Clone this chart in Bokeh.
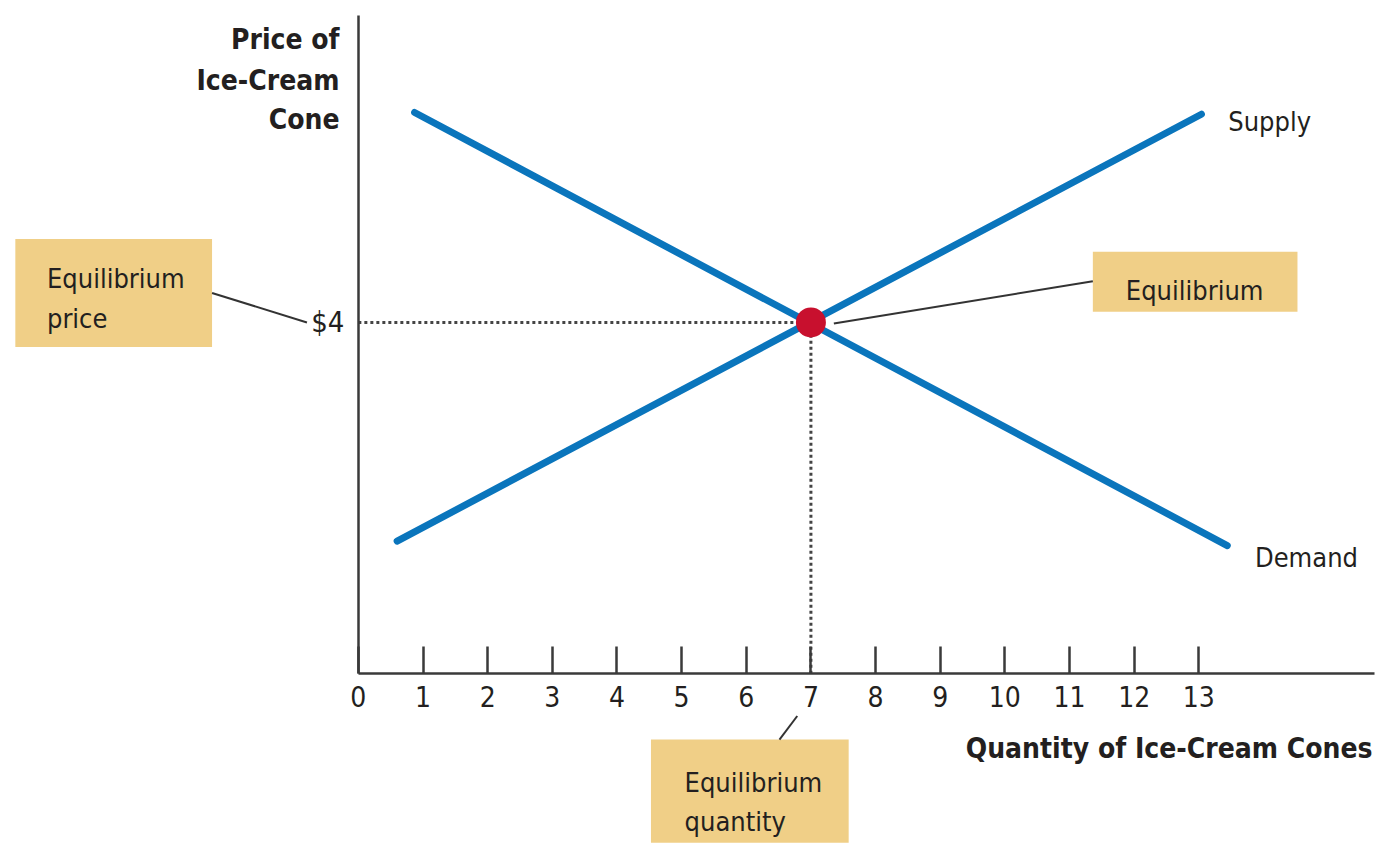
from bokeh.plotting import figure
from bokeh.models import Range1d, LinearAxis, FixedTicker, Label, PolyAnnotation, Arrow
from bokeh.embed import file_html
from bokeh.resources import INLINE

# ---------------- data ----------------
supply_q = [0.60, 13.04]
supply_p = [1.51, 6.37]
demand_q = [0.87, 13.44]
demand_p = [6.39, 1.46]
eq_q = [7]
eq_p = [4]
q_ticks = list(range(0, 14))
p_ticks = [4]
p_tick_labels = {4: "$4"}

# ---------------- layout constants (reference pixels) ----------------
W, H = 1381, 849
REF_W, REF_H = 1397, 865
X0_PX, Y0_PX = 362, 686          # reference px of the origin
PX_PER_Q, PX_PER_P = 65.4, 89.5
TOP_PX, RIGHT_PX = 15, 1390
FONT = "DejaVu Sans Condensed, Liberation Sans Narrow, Roboto"
TXT = "#231f20"
AXIS = "#3a3a3a"
BLUE = "#0a75bc"
RED = "#c8102e"
BOX = "#f0cf87"
REG = "27px"
BOLD = "28px"

def dx(px):
    return (px - X0_PX) / PX_PER_Q

def dy(py):
    return (Y0_PX - py) / PX_PER_P

p = figure(width=W, height=H,
           x_range=Range1d(dx(0), dx(REF_W)), y_range=Range1d(dy(REF_H), dy(0)),
           x_axis_type=None, y_axis_type=None,
           output_backend="svg", toolbar_location=None, min_border=0)
p.outline_line_color = None
p.background_fill_color = "white"
p.border_fill_color = "white"

xaxis = LinearAxis(ticker=FixedTicker(ticks=q_ticks), fixed_location=0, bounds=(0, dx(RIGHT_PX)))
xaxis.axis_line_color = AXIS
xaxis.axis_line_width = 2.5
xaxis.major_tick_line_color = AXIS
xaxis.major_tick_line_width = 2.5
xaxis.major_tick_in = 27
xaxis.major_tick_out = 0
xaxis.minor_tick_line_color = None
xaxis.major_label_text_font = FONT
xaxis.major_label_text_font_size = "28px"
xaxis.major_label_text_color = TXT
xaxis.major_label_standoff = 12
p.add_layout(xaxis, "below")

yaxis = LinearAxis(ticker=FixedTicker(ticks=p_ticks), major_label_overrides=p_tick_labels,
                   fixed_location=0, bounds=(0, dy(TOP_PX)))
yaxis.axis_line_color = AXIS
yaxis.axis_line_width = 2.5
yaxis.major_tick_line_color = None
yaxis.major_tick_in = 0
yaxis.major_tick_out = 0
yaxis.minor_tick_line_color = None
yaxis.major_label_text_font = FONT
yaxis.major_label_text_font_size = "29px"
yaxis.major_label_text_color = TXT
yaxis.major_label_standoff = 14
p.add_layout(yaxis, "left")

# dotted guide lines to the equilibrium
p.line([0, eq_q[0]], [eq_p[0], eq_p[0]], line_color="#444444", line_width=3, line_dash="3 3")
p.line([eq_q[0], eq_q[0]], [0, eq_p[0]], line_color="#444444", line_width=3, line_dash="3 3")

# curves
p.line(supply_q, supply_p, line_color=BLUE, line_width=7, line_cap="round")
p.line(demand_q, demand_p, line_color=BLUE, line_width=7, line_cap="round")
p.scatter(eq_q, eq_p, size=30, fill_color=RED, line_color=None)

# ---------------- callout boxes ----------------
def box(l, t, r, b):
    p.add_layout(PolyAnnotation(xs=[dx(l), dx(r), dx(r), dx(l)], ys=[dy(t), dy(t), dy(b), dy(b)],
                                fill_color=BOX, fill_alpha=1.0, line_color=None))

def label(txt, x, y, size=REG, align="left", bold=False):
    p.add_layout(Label(x=dx(x), y=dy(y), text=txt, text_font=FONT, text_font_size=size,
                       text_color=TXT, text_align=align, text_baseline="alphabetic",
                       text_font_style="bold" if bold else "normal"))

def leader(x0, y0, x1, y1):
    p.add_layout(Arrow(end=None, x_start=dx(x0), y_start=dy(y0), x_end=dx(x1), y_end=dy(y1),
                       line_color="#333333", line_width=2))

box(15, 243, 214, 353)
box(1105, 256, 1312, 317)
box(658, 753, 858, 858)

leader(214, 298, 310, 328)
leader(843, 329, 1105, 286)
leader(806, 729, 788, 753)

label("Equilibrium", 47, 283)
label("price", 47, 324)
label("Equilibrium", 1208, 295, align="center")
label("Equilibrium", 692, 797)
label("quantity", 692, 836)

label("Supply", 1242, 123)
label("Demand", 1269, 567)

label("Price of", 343, 40, size=BOLD, align="right", bold=True)
label("Ice-Cream", 343, 81, size=BOLD, align="right", bold=True)
label("Cone", 343, 121, size=BOLD, align="right", bold=True)
label("Quantity of Ice-Cream Cones", 1388, 762, size=BOLD, align="right", bold=True)

open("out.html", "w").write(file_html(p, INLINE))
